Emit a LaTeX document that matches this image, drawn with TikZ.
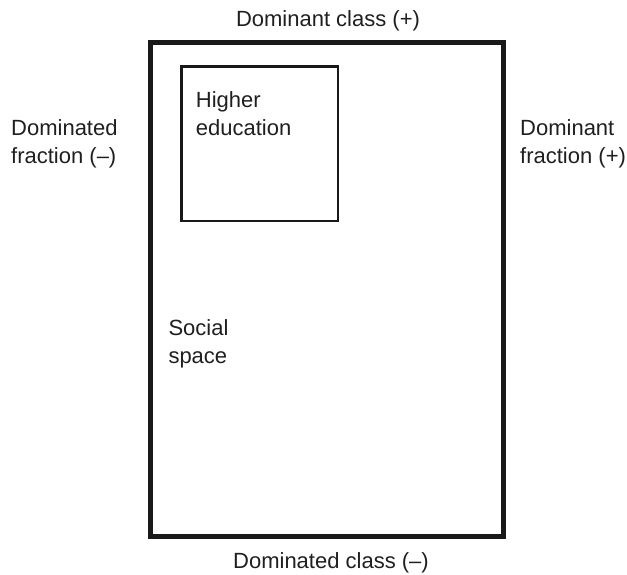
\documentclass[tikz,border=0pt]{standalone}
\usepackage{fontspec}
\setmainfont{Liberation Sans}
\begin{document}
\begin{tikzpicture}[x=1pt,y=-1pt,
  lbl/.style={font=\fontsize{22}{28.5}\selectfont, inner sep=0pt, text=black!88, align=left},
  frame/.style={draw=black!90, inner sep=0pt}]
\useasboundingbox (0,0) rectangle (627,574);
\node[frame, line width=4.5pt, minimum width=353pt, minimum height=494pt] (space) at (327,289.5) {};
\node[frame, line width=2.5pt, minimum width=156.5pt, minimum height=154.5pt] (higher) at (259.75,143.75) {};
\node[lbl, anchor=base] (top) at (328,26.7) {Dominant class (+)};
\node[lbl, anchor=base] (bottom) at (331,568.3) {Dominated class (–)};
\node[lbl, anchor=base west] (left) at (11,163.5) {Dominated\\fraction (–)};
\node[lbl, anchor=base west] (right) at (520,163.5) {Dominant\\fraction (+)};
\node[lbl, anchor=base west] (he) at (195.7,135.5) {Higher\\education};
\node[lbl, anchor=base west] (ss) at (168.3,363.5) {Social\\space};
\end{tikzpicture}
\end{document}
